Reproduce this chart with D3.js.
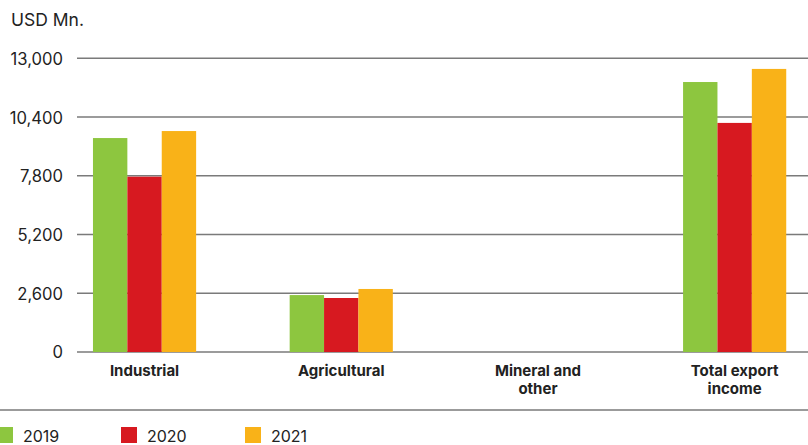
<!DOCTYPE html>
<html><head><meta charset="utf-8">
<script src="https://cdn.jsdelivr.net/npm/d3@7"></script>
<style>html,body{margin:0;padding:0;background:#fff;}svg{display:block;}</style>
</head><body><svg id="c" width="808" height="445"></svg>
<script>
const categories = [["Industrial"], ["Agricultural"], ["Mineral and", "other"], ["Total export", "income"]];
const years = ["2019", "2020", "2021"];
const values2019 = [9470, 2520, 0, 11950];
const values2020 = [7760, 2390, 0, 10140];
const values2021 = [9780, 2790, 0, 12530];
const yTicks = [0, 2600, 5200, 7800, 10400, 13000];
const colors = ["#8DC63F", "#D71920", "#F9B218"];
const series = [values2019, values2020, values2021];

const svg = d3.select("#c");
const font = "Inter, 'Liberation Sans', Arial, sans-serif";
const y = d3.scaleLinear().domain([0, 13000]).range([352, 58.3]);
const catKeys = categories.map(c => c.join(" "));
const x0 = d3.scaleBand().domain(catKeys).range([46.2, 833]).padding(0);
const x1 = d3.scaleBand().domain(years).range([0, x0.bandwidth()]).paddingInner(0).paddingOuter(1.36);

// y axis labels
const yAxis = d3.axisLeft(y).tickValues(yTicks).tickSize(0).tickFormat(d3.format(","));
const gA = svg.append("g").attr("transform", "translate(63,0)").call(yAxis);
gA.select(".domain").remove();
gA.selectAll("text").attr("x", 0).attr("dy", "0.36em").style("font-family", font).style("font-size", "16.6px").attr("fill", "#222");

// grid
svg.append("g").selectAll("line").data(yTicks).join("line")
  .attr("x1", 77).attr("x2", 808).attr("y1", d => y(d)).attr("y2", d => y(d))
  .attr("stroke", "#7a7a7a").attr("stroke-width", 1.6);

// bars
const g = svg.append("g");
series.forEach((vals, si) => {
  g.selectAll(null).data(vals).join("rect")
    .attr("x", (d, i) => x0(catKeys[i]) + x1(years[si]))
    .attr("width", x1.bandwidth())
    .attr("y", d => y(d))
    .attr("height", d => y(0) - y(d))
    .attr("fill", colors[si]);
});

// category labels
categories.forEach((lines, i) => {
  const cx = x0(catKeys[i]) + x0.bandwidth() / 2;
  const t = svg.append("text").attr("x", cx).attr("y", 376)
    .attr("text-anchor", "middle").style("font-family", font).style("font-size", "15px")
    .style("font-weight", "bold").attr("fill", "#222");
  lines.forEach((l, j) => t.append("tspan").attr("x", cx).attr("dy", j ? 18 : 0).text(l));
});

svg.append("text").attr("x", 11).attr("y", 26).text("USD Mn.")
  .style("font-family", font).style("font-size", "17.5px").attr("fill", "#222");

// bottom rule
svg.append("line").attr("x1", 0).attr("x2", 808).attr("y1", 410).attr("y2", 410)
  .attr("stroke", "#7a7a7a").attr("stroke-width", 1.6);

// legend
const lg = svg.append("g").selectAll("g").data(years).join("g")
  .attr("transform", (d, i) => `translate(${-3 + i * 124},427)`);
lg.append("rect").attr("width", 16).attr("height", 16).attr("fill", (d, i) => colors[i]);
lg.append("text").attr("x", 26).attr("y", 14.5).text(d => d)
  .style("font-family", font).style("font-size", "16px").attr("fill", "#222");
</script></body></html>
